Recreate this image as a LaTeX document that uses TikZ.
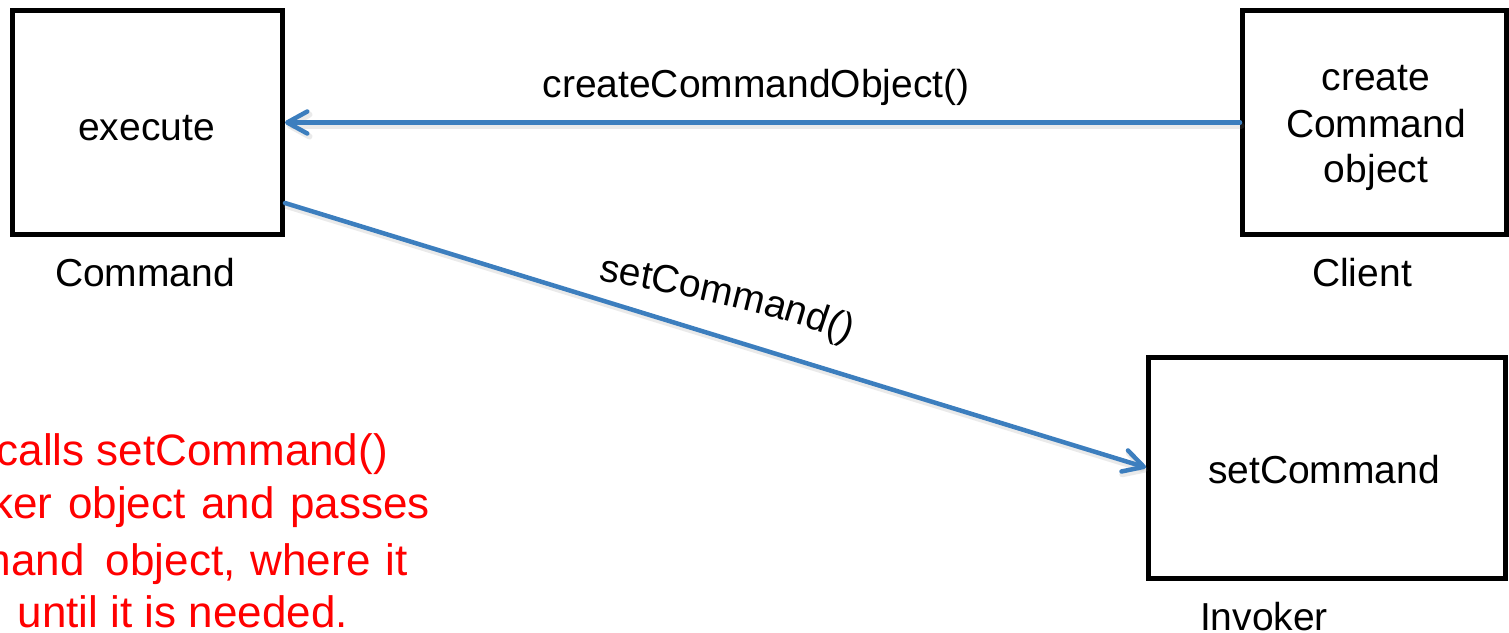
\documentclass[tikz,border=0pt]{standalone}
\usepackage{fontspec}
\setmainfont{Liberation Sans}
\usetikzlibrary{arrows.meta,decorations.text}
\definecolor{flowblue}{RGB}{60,126,190}
\begin{document}
\begin{tikzpicture}[x=1pt,y=-1pt,
  box/.style={draw=black,line width=5pt,inner sep=0pt},
  lbl/.style={font=\fontsize{39}{47}\selectfont,inner sep=0pt,anchor=base},
  note/.style={text=red,font=\fontsize{44}{53}\selectfont,inner sep=0pt,anchor=base east},
  flow/.style={draw=flowblue,line width=4.5pt,line cap=round,
    -{Straight Barb[length=20pt,width=22pt,round]}},
  flowshadow/.style={draw=black!45,opacity=0.18,line width=6pt,line cap=round,
    -{Straight Barb[length=20pt,width=22pt,round]}}]
  \useasboundingbox (0,0) rectangle (1509,632);

  % classes
  \node[box,minimum width=270pt,minimum height=224pt] (cmd) at (147.5,122.5) {};
  \node[box,minimum width=264pt,minimum height=224pt] (client) at (1374.5,122.5) {};
  \node[box,minimum width=356.5pt,minimum height=221pt] (inv) at (1326.75,467.5) {};

  % text inside the boxes
  \node[lbl] (cmdop) at (146.5,140) {execute};
  \node[lbl] (clop1) at (1376,90) {create};
  \node[lbl] (clop2) at (1376,137.5) {Command};
  \node[lbl] (clop3) at (1376,182) {object};
  \node[lbl] (invop) at (1324,483) {setCommand};

  % names under the boxes
  \node[lbl] (cmdname) at (145,286) {Command};
  \node[lbl] (clname) at (1362,286) {Client};
  \node[lbl] (invname) at (1264,630) {Invoker};

  % calls (soft shadow first, then the arrow)
  \draw[flowshadow,transform canvas={shift={(1.5pt,-3pt)}}] (client.west) -- (cmd.east);
  \draw[flowshadow,transform canvas={shift={(1.5pt,-3pt)}}] ([yshift=-80.5pt]cmd.east) -- (inv.west);
  \draw[flow] (client.west) -- (cmd.east);
  \draw[flow] ([yshift=-80.5pt]cmd.east) -- (inv.west);

  % call labels
  \node[lbl] (create) at (756,97) {createCommandObject()};
  \path[decorate,decoration={text along path,text align=center,
      text={|\fontsize{39}{47}\selectfont|setCommand()}}]
    (597,280) .. controls (681,295) and (771,311) .. (850,343);

  % explanation (justified lines, so some word gaps are wider)
  \node[note] (n1) at (388,465) {calls setCommand()};
  \node[note] (n2) at (430,518) {\spaceskip=15.7pt ker object and passes};
  \node[note] (n3) at (408,575) {\spaceskip=15.2pt mand\hspace{6pt} object, where it};
  \node[note] (n4) at (348,627) {until it is needed.};
\end{tikzpicture}
\end{document}
